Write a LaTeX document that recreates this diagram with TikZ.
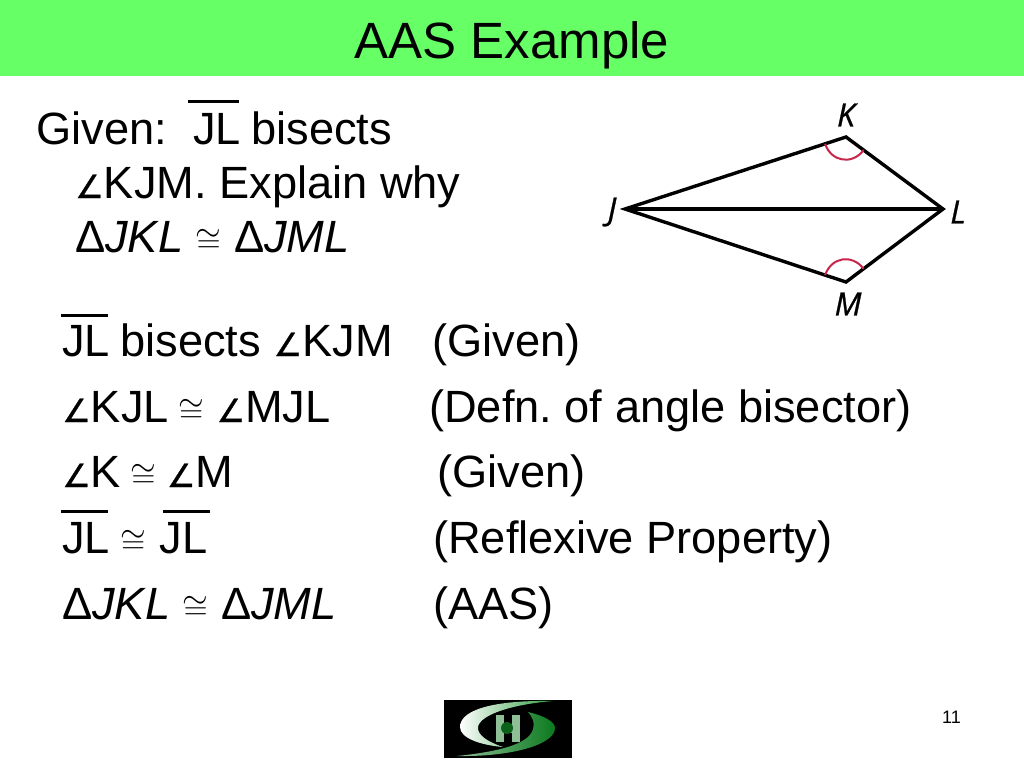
\documentclass[tikz,border=0pt]{standalone}
\usepackage{fix-cm}
\usepackage{amssymb}
\usepackage{fontspec}
\setmainfont{Liberation Sans}
\newfontfamily\kitefont[FakeBold=0.8]{Open Sans}
\newfontfamily\symfont[FakeBold=0.8]{DejaVu Sans}
\usetikzlibrary{positioning,calc}
\definecolor{bandcolor}{HTML}{66FF66}
\definecolor{arccolor}{HTML}{C8264B}
\definecolor{logodark}{HTML}{0B7A1E}
\definecolor{logomid}{HTML}{2E9E3E}
\definecolor{logolight}{HTML}{8FBF96}
\newcommand{\angsym}{{\symfont\fontsize{32}{32}\selectfont ∠}}
\newcommand{\congsym}{{\fontsize{33}{33}\selectfont$\cong$}}
\newcommand{\barover}[4]{\draw[barline] ([xshift=#2pt,yshift=#4pt]#1.north west) -- ([xshift=#3pt,yshift=#4pt]#1.north east);}

\begin{document}
\begin{tikzpicture}[x=1pt, y=-1pt,
  bodytext/.style={anchor=base west, inner sep=0pt, font=\fontsize{45.2}{50}\selectfont},
  kitelabel/.style={inner sep=0pt, font=\kitefont\itshape\fontsize{32}{36}\selectfont},
  kiteline/.style={line width=3.4pt, line join=miter},
  anglemark/.style={arccolor, line width=2pt},
  barline/.style={line width=2.6pt}]

  \useasboundingbox (0,0) rectangle (1024,768);
  \fill[white] (0,0) rectangle (1024,768);

  % title band
  \fill[bandcolor] (0,0) rectangle (1024,76);
  \node[inner sep=0pt, anchor=base, font=\fontsize{51}{55}\selectfont] (title) at (512,59) {AAS Example};

  % given
  \node[bodytext] (given) at (36,144) {Given:};
  \node[bodytext] (givenjl) at (193,144) {JL};
  \node[bodytext, base right=10pt of givenjl] (bisects) {bisects};
  \node[bodytext] (givenkjm) at (75,198) {\angsym KJM. Explain why};
  \node[bodytext] (givenjkl) at (75,252) {Δ\textit{JKL} \congsym{} Δ\textit{JML}};
  \barover{givenjl}{-5}{-2}{11}

  % kite
  \node[coordinate] (J) at (625,209) {};
  \node[coordinate] (K) at (846,137) {};
  \node[coordinate] (L) at (943,209) {};
  \node[coordinate] (M) at (846,282) {};
  \draw[kiteline] (J) -- (K) -- (L) -- (M) -- cycle;
  \draw[kiteline] (J) -- (L);
  \draw[anglemark] ($(K)!22pt!(J)$) to[bend right=62, looseness=1.25] ($(K)!22pt!(L)$);
  \draw[anglemark] ($(M)!22pt!(J)$) to[bend left=62, looseness=1.25] ($(M)!22pt!(L)$);
  \node[kitelabel] (labelk) at (846,115) {K};
  \node[kitelabel] (labelj) at (612,212) {J};
  \node[kitelabel] (labell) at (958,212) {L};
  \node[kitelabel] (labelm) at (848,304) {M};

  % proof
  \node[bodytext] (rowa) at (62,356) {JL};
  \node[bodytext, base right=10pt of rowa] (rowatext) {bisects \angsym KJM};
  \node[bodytext] (reasona) at (432,356) {(Given)};
  \barover{rowa}{-1}{-2}{9}

  \node[bodytext] (rowb) at (62,422) {\angsym KJL\kern-3pt{} \congsym{} \angsym MJL};
  \node[bodytext] (reasonb) at (429,422) {(Defn.\ of angle bisector)};

  \node[bodytext] (rowc) at (62,487) {\angsym K\kern-3pt{} \congsym{} \kern-2pt\angsym M};
  \node[bodytext] (reasonc) at (437,487) {(Given)};

  \node[bodytext] (rowd) at (62,553) {JL};
  \node[bodytext, base right=10pt of rowd] (rowdcong) {\congsym};
  \node[bodytext, base right=13pt of rowdcong] (rowdjl) {JL};
  \node[bodytext] (reasond) at (433,553) {(Reflexive Property)};
  \barover{rowd}{-1}{-2}{10}
  \barover{rowdjl}{4}{3}{10}

  \node[bodytext] (rowe) at (62,619) {Δ\textit{JKL} \congsym{} Δ\textit{JML}};
  \node[bodytext] (reasone) at (433,619) {(AAS)};

  % logo
  \fill[black] (444,700) rectangle (572,758);
  \fill[left color=white, right color=logomid] (553,701) .. controls (500,700) and (460,708) .. (460,727) .. controls (460,738) and (480,745) .. (503,747) .. controls (488,742) and (477,735) .. (478,727) .. controls (480,714) and (515,704) .. (553,701) -- cycle;
  \fill[left color=logolight, right color=logodark] (457,756) .. controls (510,757) and (555,745) .. (555,728) .. controls (555,722) and (545,716) .. (528,712) .. controls (533,718) and (535,723) .. (533,729) .. controls (529,745) and (495,752) .. (457,756) -- cycle;
  \fill[logolight] (496,715) rectangle (504,742);
  \fill[logolight] (512,715) rectangle (520,742);
  \fill[logolight] (504,724) rectangle (512,733);
  \fill[logodark!80!black] (507,728) circle (6);

  % page number
  \node[inner sep=0pt, anchor=base east, font=\fontsize{18}{20}\selectfont] (pagenum) at (961,723) {11};
\end{tikzpicture}
\end{document}
